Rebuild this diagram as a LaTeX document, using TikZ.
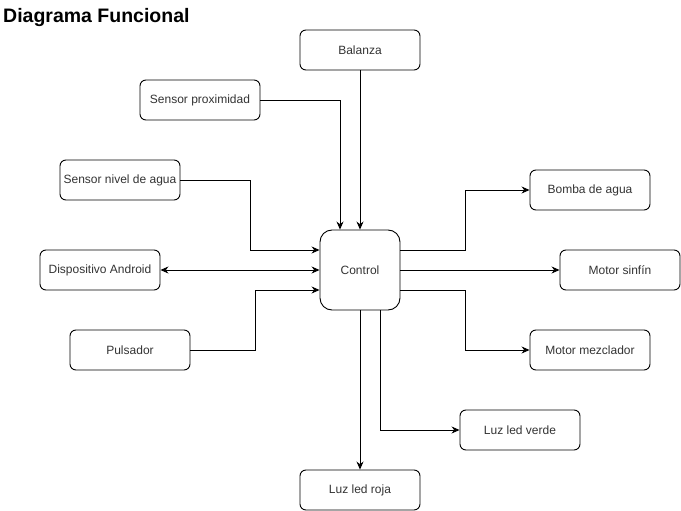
\documentclass[tikz,border=0pt]{standalone}
\usepackage{fontspec}
\setmainfont{Liberation Sans}
\usetikzlibrary{arrows.meta}

\begin{document}
\begin{tikzpicture}[x=1pt,y=-1pt,
  caja/.style={draw, line width=0.9pt, rounded corners=6pt, minimum width=120pt, minimum height=40pt,
    inner sep=0pt, text=black!80, font=\fontsize{12}{14}\selectfont},
  flecha/.style={-{Stealth[length=8pt,width=7pt]}, line width=0.9pt},
  doble/.style={{Stealth[length=8pt,width=7pt]}-{Stealth[length=8pt,width=7pt]}, line width=0.9pt}]
\useasboundingbox (0,0) rectangle (681,511);
% titulo
\node[anchor=base west, inner sep=0pt, font=\bfseries\fontsize{19.5}{22}\selectfont] (titulo) at (3,23) {Diagrama Funcional};
% entradas
\node[caja] (balanza) at (360,50) {Balanza};
\node[caja] (proximidad) at (200,100) {Sensor proximidad};
\node[caja] (nivel) at (120,180) {Sensor nivel de agua};
\node[caja] (android) at (100,270) {Dispositivo Android};
\node[caja] (pulsador) at (130,350) {Pulsador};
% control
\node[caja, minimum width=80pt, minimum height=80pt, rounded corners=12pt] (control) at (360,270) {Control};
% salidas
\node[caja] (bomba) at (590,190) {Bomba de agua};
\node[caja] (sinfin) at (620,270) {Motor sinfín};
\node[caja] (mezclador) at (590,350) {Motor mezclador};
\node[caja] (verde) at (520,430) {Luz led verde};
\node[caja] (roja) at (360,490) {Luz led roja};

\draw[flecha] (balanza) -- (control);
\draw[flecha] (proximidad.east) -| ([xshift=-20pt]control.north);
\draw[flecha] (nivel.east) -- ++(70,0) |- ([yshift=20pt]control.west);
\draw[doble] (android) -- (control);
\draw[flecha] (pulsador.east) -- ++(65,0) |- ([yshift=-20pt]control.west);
%\draw[flecha] (control) -- (bomba);
\draw[flecha] ([yshift=20pt]control.east) -- ++(65,0) |- (bomba.west);
\draw[flecha] (control) -- (sinfin);
\draw[flecha] ([yshift=-20pt]control.east) -- ++(65,0) |- (mezclador.west);
\draw[flecha] ([xshift=20pt]control.south) |- (verde.west);
\draw[flecha] (control) -- (roja);
\end{tikzpicture}
\end{document}
